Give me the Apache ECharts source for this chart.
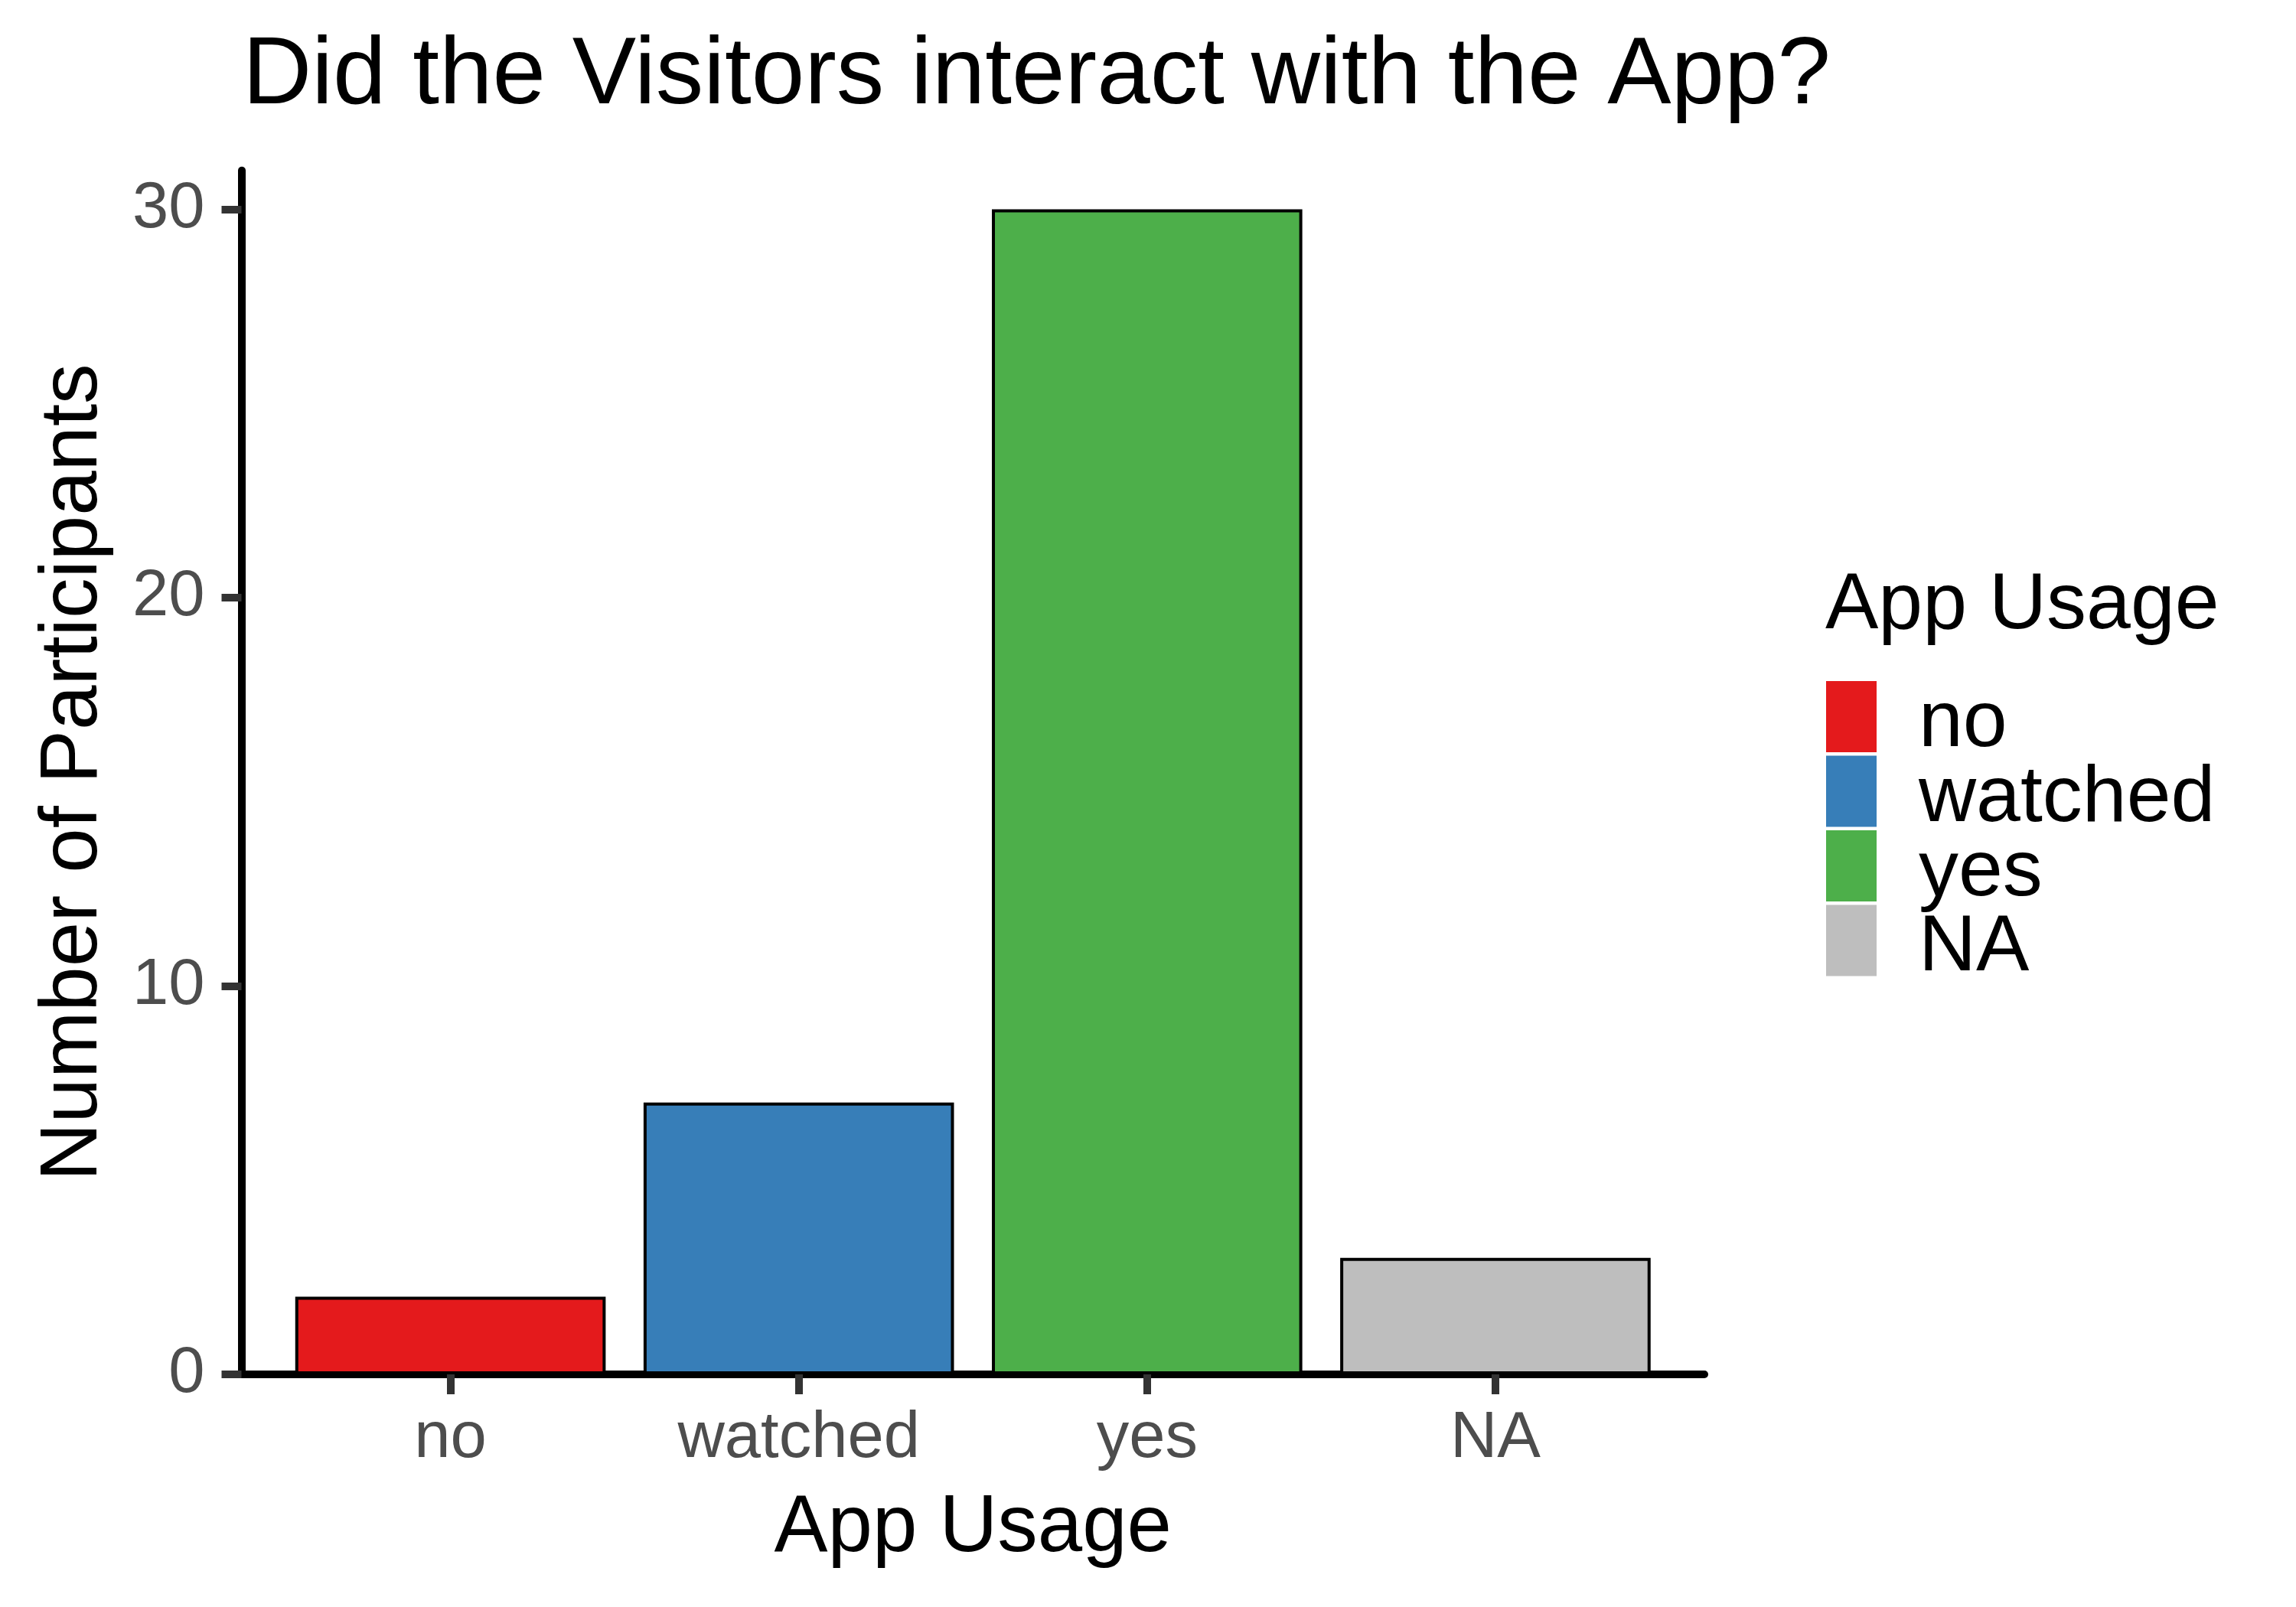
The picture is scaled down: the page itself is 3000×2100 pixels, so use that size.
<!DOCTYPE html>
<html>
<head>
<meta charset="utf-8">
<script src="https://cdn.jsdelivr.net/npm/echarts@6/dist/echarts.min.js"></script>
<style>
html,body{margin:0;padding:0;background:#fff;}
#chart{width:3000px;height:2100px;}
</style>
</head>
<body>
<div id="chart"></div>
<script>
// ---- data ----
const categories = ["no", "watched", "yes", "NA"];
const counts = [2, 7, 30, 3];
const colors = ["#E41A1C", "#377EB8", "#4DAF4A", "#BEBEBE"];
const yTicks = [0, 10, 20, 30];
const xTickPositions = [0, 1, 2, 3];

const FONT = "Liberation Sans, Arial, Helvetica, sans-serif";
const gridLeft = 315.5, gridRight = 2227, gridTop = 222.75, gridBottom = 1796;
const xMin = -0.6, xMax = 3.6;
const unit = (gridRight - gridLeft) / (xMax - xMin);

const chart = echarts.init(document.getElementById('chart'), null, {renderer: 'canvas'});

const series = categories.map((c, i) => ({
  name: c,
  type: 'bar',
  stack: 'all',
  barWidth: unit * 0.9 - 4,
  data: [[i, counts[i]]],
  itemStyle: {color: colors[i], borderColor: '#000', borderWidth: 4},
  emphasis: {disabled: true},
  animation: false
}));

chart.setOption({
  backgroundColor: '#fff',
  animation: false,
  title: [
    {
      text: 'Did the Visitors interact with the App?',
      left: 317, top: 38, padding: 0,
      textStyle: {fontFamily: FONT, fontSize: 125, fontWeight: 'normal', color: '#000'}
    },
    {
      text: 'App Usage',
      left: 2385, top: 740, padding: 0,
      textStyle: {fontFamily: FONT, fontSize: 104, fontWeight: 'normal', color: '#000'}
    }
  ],
  legend: {
    orient: 'vertical',
    left: 2386, top: 890, padding: 0,
    data: categories,
    icon: 'rect',
    itemWidth: 66, itemHeight: 93, itemGap: -11,
    itemStyle: {borderWidth: 0},
    selectedMode: false,
    formatter: name => '{t|' + name + '}',
    textStyle: {
      fontFamily: FONT, fontSize: 104, color: '#000',
      rich: {t: {fontFamily: FONT, fontSize: 104, color: '#000', padding: [20, 0, 0, 50]}}
    }
  },
  grid: {
    left: gridLeft, top: gridTop,
    width: gridRight - gridLeft, height: gridBottom - gridTop,
    containLabel: false, outerBoundsMode: 'none'
  },
  xAxis: {
    type: 'value',
    min: xMin, max: xMax,
    name: 'App Usage',
    nameLocation: 'middle',
    nameGap: 150,
    nameTextStyle: {fontFamily: FONT, fontSize: 105, color: '#000'},
    axisLine: {show: true, onZero: false, lineStyle: {color: '#000', width: 10}},
    axisTick: {show: true, length: 26, lineStyle: {color: '#333333', width: 10}, customValues: xTickPositions},
    axisLabel: {
      show: true, margin: 42, fontFamily: FONT, fontSize: 85, color: '#4D4D4D',
      customValues: xTickPositions,
      formatter: v => categories[Math.round(v)]
    },
    splitLine: {show: false}
  },
  yAxis: {
    type: 'value',
    min: 0, max: 31,
    name: 'Number of Participants',
    nameLocation: 'middle',
    nameRotate: 90,
    nameGap: 166,
    nameTextStyle: {fontFamily: FONT, fontSize: 105, color: '#000'},
    axisLine: {show: true, onZero: false, lineStyle: {color: '#000', width: 10}},
    axisTick: {show: true, length: 26, lineStyle: {color: '#333333', width: 10}, customValues: yTicks},
    axisLabel: {
      show: true, margin: 48, fontFamily: FONT, fontSize: 85, color: '#4D4D4D',
      customValues: yTicks
    },
    splitLine: {show: false}
  },
  series: series
});
</script>
</body>
</html>
